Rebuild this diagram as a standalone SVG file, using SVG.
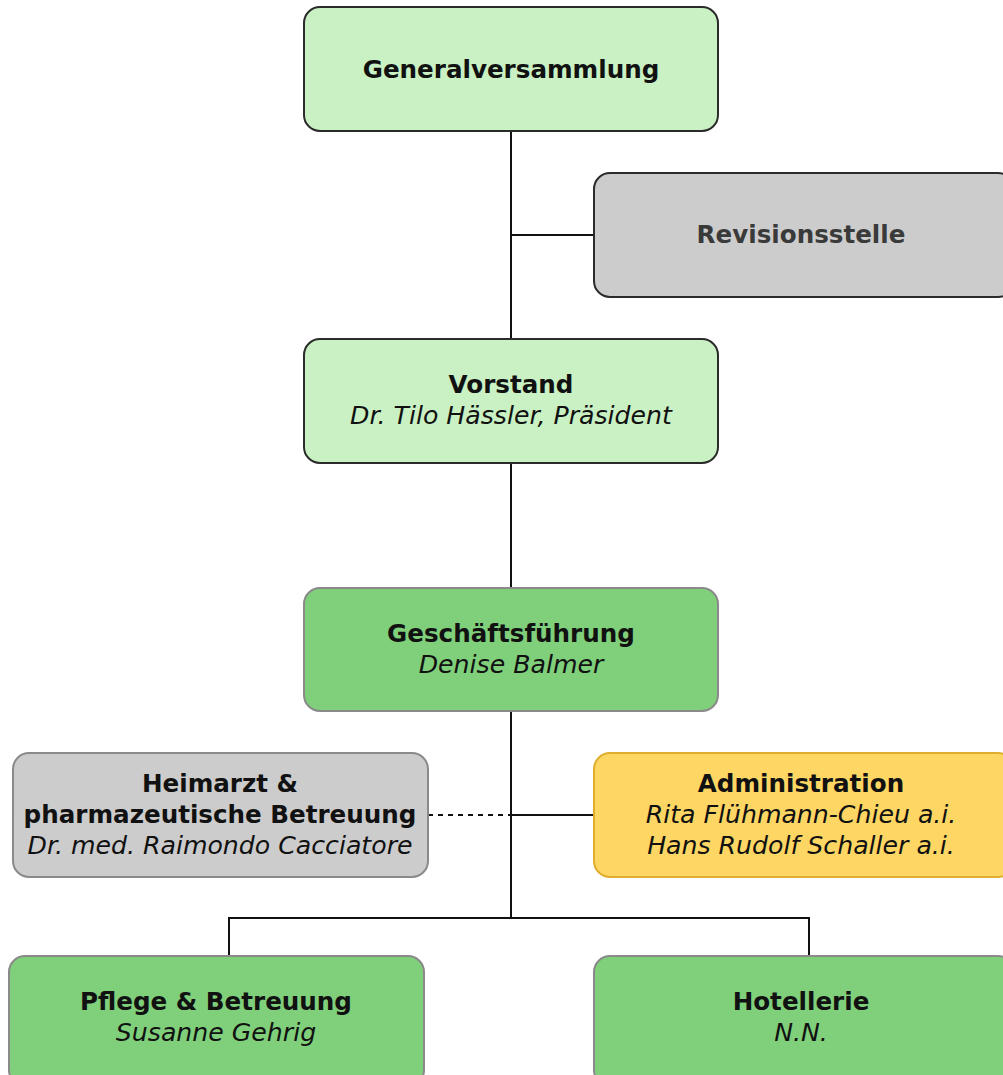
<svg xmlns="http://www.w3.org/2000/svg" width="1003" height="1075" viewBox="0 0 1003 1075">
<style>
.box{stroke-width:2}
.lg{fill:#c9f1c3;stroke:#2b2b2b}
.gr{fill:#cccccc;stroke:#2b2b2b}
.grl{fill:#cccccc;stroke:#8a8a8a}
.dg{fill:#7fcf7b;stroke:#8a8a8a}
.ye{fill:#fdd663;stroke:#dfae2e}
text{font-family:"DejaVu Sans",Verdana,sans-serif;font-size:24.6px;text-anchor:middle;fill:#111}
.b{font-weight:bold}
.i{font-style:italic;font-size:25.2px}
.conn{stroke:#111;stroke-width:2;fill:none}
.dash{stroke-dasharray:5,5}
</style>
<g id="connectors">
<path class="conn" d="M511 131V339M511 235H594M511 463V588M511 711V918M511 815H594M229 956V918H809V956"/>
<path class="conn dash" d="M428 815H511"/>
</g>
<g id="generalversammlung">
<rect class="box lg" x="304" y="7" width="414" height="124" rx="16"/>
<text class="b" x="511" y="78">Generalversammlung</text>
</g>
<g id="revisionsstelle">
<rect class="box gr" x="594" y="173" width="420" height="124" rx="16"/>
<text class="b" x="801" y="243" style="fill:#3a3a3a">Revisionsstelle</text>
</g>
<g id="vorstand">
<rect class="box lg" x="304" y="339" width="414" height="124" rx="16"/>
<text class="b" x="511" y="393">Vorstand</text>
<text class="i" x="511" y="424">Dr. Tilo Hässler, Präsident</text>
</g>
<g id="geschaeftsfuehrung">
<rect class="box dg" x="304" y="588" width="414" height="123" rx="16"/>
<text class="b" x="511" y="642">Geschäftsführung</text>
<text class="i" x="511" y="673">Denise Balmer</text>
</g>
<g id="heimarzt">
<rect class="box grl" x="13" y="753" width="415" height="124" rx="16"/>
<text class="b" x="220" y="792">Heimarzt &amp;</text>
<text class="b" x="220" y="823">pharmazeutische Betreuung</text>
<text class="i" x="220" y="854">Dr. med. Raimondo Cacciatore</text>
</g>
<g id="administration">
<rect class="box ye" x="594" y="753" width="420" height="124" rx="16"/>
<text class="b" x="801" y="792">Administration</text>
<text class="i" x="801" y="823">Rita Flühmann-Chieu a.i.</text>
<text class="i" x="801" y="854">Hans Rudolf Schaller a.i.</text>
</g>
<g id="pflege">
<rect class="box dg" x="9" y="956" width="415" height="130" rx="16"/>
<text class="b" x="216" y="1010">Pflege &amp; Betreuung</text>
<text class="i" x="216" y="1041">Susanne Gehrig</text>
</g>
<g id="hotellerie">
<rect class="box dg" x="594" y="956" width="420" height="130" rx="16"/>
<text class="b" x="801" y="1010">Hotellerie</text>
<text class="i" x="801" y="1041">N.N.</text>
</g>
</svg>
